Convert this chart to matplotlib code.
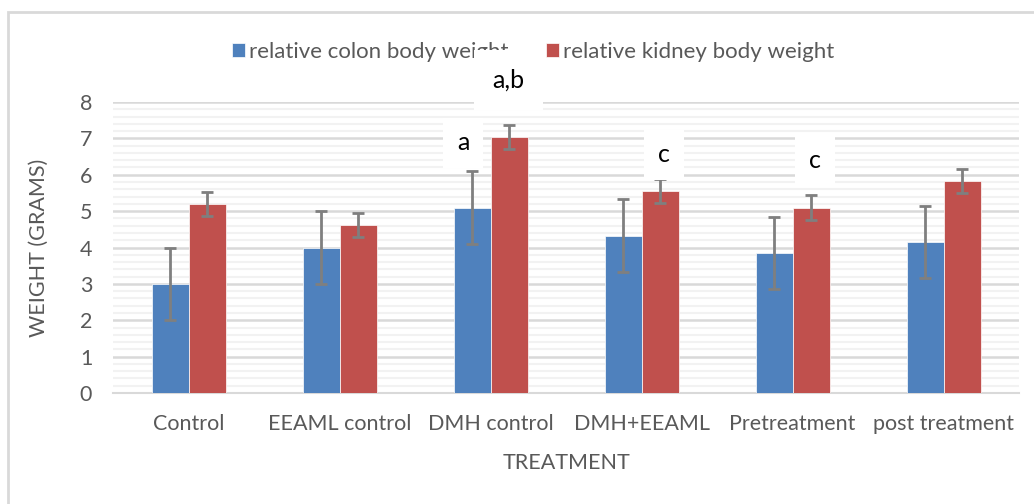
import numpy as np
import matplotlib
matplotlib.use("Agg")
import matplotlib.pyplot as plt
from matplotlib.patches import Rectangle
from matplotlib.ticker import MultipleLocator

# === DATA ===
categories = ["Control", "EEAML control", "DMH control", "DMH+EEAML", "Pretreatment", "post treatment"]
colon = [3.0, 4.0, 5.1, 4.32, 3.85, 4.15]
colon_err = [1.0, 1.0, 1.0, 1.0, 1.0, 1.0]
kidney = [5.2, 4.63, 7.03, 5.55, 5.1, 5.83]
kidney_err = [0.33, 0.33, 0.33, 0.33, 0.33, 0.33]
series_names = ["relative colon body weight", "relative kidney body weight"]

# significance letters: (text, x in category units, y in data units, box pad)
sig_labels = [("a", 1.82, 6.88, 0.55), ("a,b", 2.12, 8.6, 0.75),
              ("c", 3.15, 6.55, 0.55), ("c", 4.15, 6.38, 0.55)]

BLUE = "#4f81bd"
RED = "#c0504d"
TXT = "#595959"

plt.rcParams["font.family"] = ["Lato", "DejaVu Sans"]

fig = plt.figure(figsize=(10.34, 5.04), dpi=100)
ax = fig.add_axes([0.1093, 0.2202, 0.8762, 0.5774])

# light frame around the chart area (right/bottom edges fall off the image)
fig.patches.append(Rectangle((8 / 1034, -0.1), 1.2, 1 - 12 / 504 + 0.1,
                             transform=fig.transFigure, fill=False,
                             edgecolor="#d9d9d9", lw=2))

x = np.arange(len(categories))
w = 0.245
err_kw = dict(ecolor="#7f7f7f", elinewidth=2, capsize=4.5, capthick=2)
ax.bar(x - w / 2, colon, w, yerr=colon_err, color=BLUE, edgecolor="white",
       lw=0.5, label=series_names[0], error_kw=err_kw, zorder=3)
ax.bar(x + w / 2, kidney, w, yerr=kidney_err, color=RED, edgecolor="white",
       lw=0.5, label=series_names[1], error_kw=err_kw, zorder=3)

ax.set_xlim(-0.5, len(categories) - 0.5)
ax.set_ylim(0, 8)
ax.yaxis.set_major_locator(MultipleLocator(1))
ax.yaxis.set_minor_locator(MultipleLocator(0.2))
ax.grid(axis="y", which="minor", color="#f2f2f2", lw=1.5, zorder=0)
ax.grid(axis="y", which="major", color="#d9d9d9", lw=1.8, zorder=1)
ax.set_axisbelow(True)

for s in ["top", "right", "left"]:
    ax.spines[s].set_visible(False)
ax.spines["bottom"].set_color("#d9d9d9")
ax.spines["bottom"].set_linewidth(1.5)

ax.set_xticks(x)
ax.set_xticklabels(categories)
ax.tick_params(axis="both", which="both", length=0, labelsize=15.5, colors=TXT)
ax.tick_params(axis="x", pad=15)
ax.tick_params(axis="y", pad=15)

ax.set_ylabel("WEIGHT (GRAMS)", fontsize=15.5, color=TXT)
ax.set_xlabel("TREATMENT", fontsize=15.5, color=TXT)
ax.yaxis.set_label_coords(-0.071, 0.5)
ax.xaxis.set_label_coords(0.5, -0.206)

leg = ax.legend(loc="center", bbox_to_anchor=(0.464, 1.172), ncol=2, frameon=False,
                fontsize=16, handlelength=0.55, handleheight=0.55, handletextpad=0.2,
                columnspacing=1.7, labelcolor=TXT)
leg.set_zorder(5)

for txt, xs, ys, pad in sig_labels:
    ax.text(xs, ys, txt, ha="center", va="center", fontsize=18, color="black",
            zorder=6, clip_on=False,
            bbox=dict(facecolor="white", edgecolor="none", boxstyle=f"square,pad={pad}"))

fig.savefig("out.png", dpi=100)
